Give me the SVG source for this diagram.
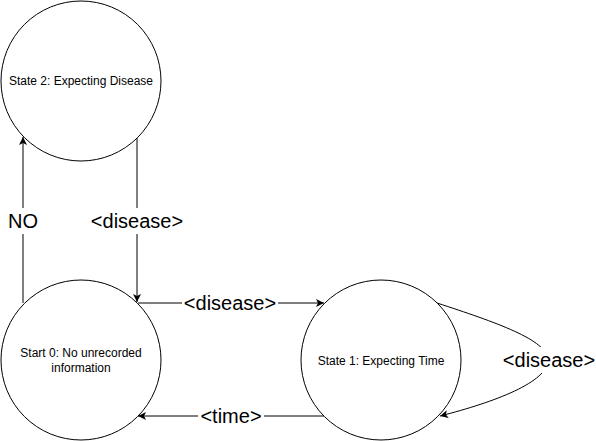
<svg xmlns="http://www.w3.org/2000/svg" width="596" height="441" viewBox="0 0 596 441">
<style>
.node{fill:#fff;stroke:#000;stroke-width:1}
.nt{font-family:"Liberation Sans",Arial,sans-serif;font-size:12px;fill:#000;text-anchor:middle}
.edge{fill:none;stroke:#000;stroke-width:1}
.lbl{font-family:"Liberation Sans",Arial,sans-serif;font-size:20px;fill:#000;text-anchor:middle}
.bg{fill:#fff}
</style>
<defs>
<marker id="arr" viewBox="0 0 10 10" refX="10" refY="5" markerWidth="8" markerHeight="8" markerUnits="userSpaceOnUse" orient="auto">
<path d="M0,0 L10,5 L0,10 L2.5,5 Z" fill="#000"/>
</marker>
</defs>
<g id="connectors">
<g id="e-no">
<path class="edge" d="M23,303 L23,137" marker-end="url(#arr)"/>
<rect class="bg" x="7" y="208" width="32" height="26"/>
<text class="lbl" x="23" y="228">NO</text>
</g>
<g id="e-s2-s0">
<path class="edge" d="M137,137 L137,302" marker-end="url(#arr)"/>
<rect class="bg" x="89" y="208" width="96" height="26"/>
<text class="lbl" x="137" y="228">&lt;disease&gt;</text>
</g>
<g id="e-s0-s1">
<path class="edge" d="M138,303 L324,303" marker-end="url(#arr)"/>
<rect class="bg" x="182" y="290" width="96" height="26"/>
<text class="lbl" x="230" y="310">&lt;disease&gt;</text>
</g>
<g id="e-s1-s0">
<path class="edge" d="M324,416 L138,416" marker-end="url(#arr)"/>
<rect class="bg" x="198" y="403" width="66" height="26"/>
<text class="lbl" x="231" y="423">&lt;time&gt;</text>
</g>
<g id="e-s1-s1">
<path class="edge" d="M437,303 C495,322 548,340 548,360 C548,382 495,402 440,416" marker-end="url(#arr)"/>
<rect class="bg" x="501" y="347" width="95" height="26"/>
<text class="lbl" x="549" y="367">&lt;disease&gt;</text>
</g>
</g>
<g id="state2">
<circle class="node" cx="81" cy="81" r="80"/>
<text class="nt" x="81" y="85">State 2: Expecting Disease</text>
</g>
<g id="start0">
<circle class="node" cx="81" cy="360" r="80"/>
<text class="nt" x="81" y="357">Start 0: No unrecorded</text>
<text class="nt" x="81" y="372">information</text>
</g>
<g id="state1">
<circle class="node" cx="381" cy="360" r="80"/>
<text class="nt" x="381" y="365">State 1: Expecting Time</text>
</g>
</svg>
